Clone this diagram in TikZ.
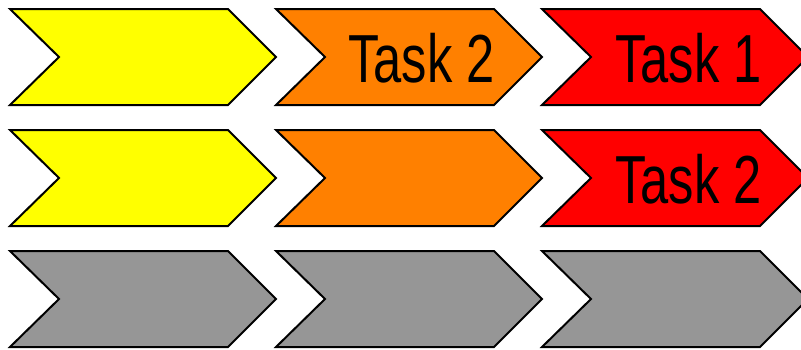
\documentclass[tikz,border=0pt]{standalone}
\usepackage{fontspec}
\setmainfont{Liberation Sans}
\definecolor{cyel}{RGB}{255,255,0}
\definecolor{corg}{RGB}{255,128,0}
\definecolor{cred}{RGB}{255,0,0}
\definecolor{cgry}{RGB}{150,150,150}
\newcommand\mychev[4]{% left, top, fill, name
  \draw[chevstyle,fill=#3] (#1,#2) -- ++(218,0) -- ++(48,48) -- ++(-48,48) -- ++(-218,0) -- ++(49,-48) -- cycle;
  \coordinate (#4) at (#1+133,#2+48);
}
\tikzset{
  chevstyle/.style={draw=black,line width=2pt,line join=miter},
  tasklabel/.style={anchor=base west,inner sep=0pt,font=\fontsize{68}{68}\selectfont}
}
\begin{document}
\begin{tikzpicture}[x=1pt,y=-1pt]
\useasboundingbox (0,0) rectangle (801,349);
\clip (0,0) rectangle (801,349);
\mychev{10}{9}{cyel}{c11}
\mychev{276}{9}{corg}{c12}
\mychev{542}{9}{cred}{c13}
\mychev{10}{130}{cyel}{c21}
\mychev{276}{130}{corg}{c22}
\mychev{542}{130}{cred}{c23}
\mychev{10}{251}{cgry}{c31}
\mychev{276}{251}{cgry}{c32}
\mychev{542}{251}{cgry}{c33}
\node[tasklabel] (t12) at (348,82) {\scalebox{0.745}[1]{Task 2}};
\node[tasklabel] (t13) at (615,82) {\scalebox{0.745}[1]{Task 1}};
\node[tasklabel] (t23) at (615,203) {\scalebox{0.745}[1]{Task 2}};
\end{tikzpicture}
\end{document}
